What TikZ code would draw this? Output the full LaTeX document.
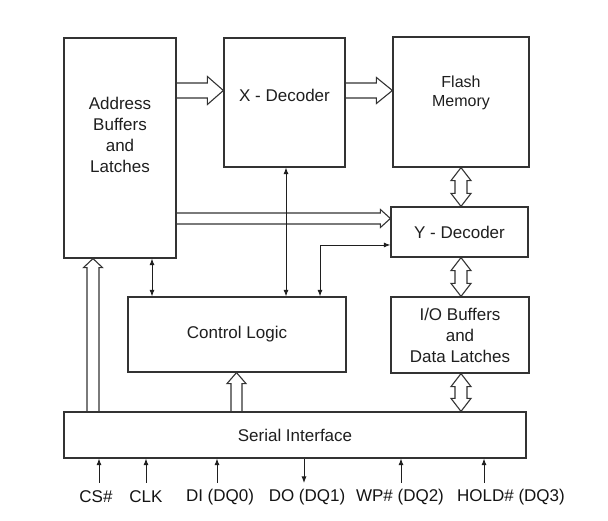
\documentclass[tikz,border=0pt]{standalone}
\usepackage{fontspec}
\setmainfont{Liberation Sans}
\usetikzlibrary{calc,arrows.meta}
% horizontal hollow arrow pointing right: #1 start, #2 tip, #3 band half, #4 head half, #5 head length
\newcommand{\hollowR}[5]{%
  \draw[hollow] let \p1=#1, \p2=#2 in
    (\x1,\y1+#3) -- (\x2-#5,\y1+#3) -- (\x2-#5,\y1+#4) -- (\x2,\y1)
    -- (\x2-#5,\y1-#4) -- (\x2-#5,\y1-#3) -- (\x1,\y1-#3);}
% vertical hollow arrow pointing up: #1 bottom, #2 tip
\newcommand{\hollowU}[5]{%
  \draw[hollow] let \p1=#1, \p2=#2 in
    (\x1-#3,\y1) -- (\x1-#3,\y2-#5) -- (\x1-#4,\y2-#5) -- (\x1,\y2)
    -- (\x1+#4,\y2-#5) -- (\x1+#3,\y2-#5) -- (\x1+#3,\y1);}
% vertical hollow double arrow: #1 top tip, #2 bottom tip
\newcommand{\hollowUD}[5]{%
  \draw[hollow] let \p1=#1, \p2=#2 in
    (\x1,\y1) -- (\x1+#4,\y1-#5) -- (\x1+#3,\y1-#5) -- (\x1+#3,\y2+#5)
    -- (\x1+#4,\y2+#5) -- (\x1,\y2) -- (\x1-#4,\y2+#5) -- (\x1-#3,\y2+#5)
    -- (\x1-#3,\y1-#5) -- (\x1-#4,\y1-#5) -- cycle;}
\tikzset{
  box/.style={draw=black!80, line width=1.2pt, inner sep=0pt, minimum width=#1},
  lbl/.style={font=\fontsize{17}{21}\selectfont, text=black!88, align=center, inner sep=0pt},
  sig/.style={font=\fontsize{17}{20}\selectfont, text=black!92, inner sep=0pt},
  hollow/.style={draw=black!80, line width=1.1pt, line join=miter},
  thinarr/.style={draw=black!88, line width=0.9pt},
  tip/.tip={Latex[length=6.5pt,width=5pt]}
}
\begin{document}
\begin{tikzpicture}[x=1pt,y=1pt]
\useasboundingbox (0,0) rectangle (608,521);
\fill[white] (0,0) rectangle (608,521);
% boxes
\node[box=112pt, minimum height=220pt] (addr) at (120,373) {};
\node[lbl] (addrt) at (120,386) {Address\\Buffers\\and\\Latches};
\node[box=121pt, minimum height=129pt] (xdec) at (284.5,418.5) {};
\node[lbl] (xdect) at (284.5,426) {X - Decoder};
\node[box=136pt, minimum height=130pt] (flash) at (461,419) {};
\node[lbl, font=\fontsize{16}{19}\selectfont] (flasht) at (461,428.5) {Flash\\Memory};
\node[box=137pt, minimum height=50pt, lbl] (ydec) at (459.5,289) {Y - Decoder};
\node[box=138pt, minimum height=76pt, lbl] (io) at (460,186) {I/O Buffers\\and\\Data Latches};
\node[box=218pt, minimum height=75pt, lbl] (ctrl) at (237,186.5) {Control Logic};
\node[box=462pt, minimum height=46pt, lbl] (serial) at (295,86) {Serial Interface};
% helper coordinates
\coordinate (ya) at (0,430.5);
\coordinate (yb) at (0,302.5);
\coordinate (xv) at (461,0);
\coordinate (xu1) at (93,0);
\coordinate (xu2) at (236.5,0);
\coordinate (xt1) at (152,0);
\coordinate (xt2) at (286,0);
\coordinate (xt3) at (320,0);
\coordinate (yt3) at (0,276);
% hollow arrows
\hollowR{(addr.east |- ya)}{(xdec.west |- ya)}{7.5pt}{14pt}{16pt}
\hollowR{(xdec.east |- ya)}{(flash.west |- ya)}{7.5pt}{13pt}{16pt}
\hollowR{(addr.east |- yb)}{(ydec.west |- yb)}{5.5pt}{9pt}{10pt}
\hollowUD{(flash.south -| xv)}{(ydec.north -| xv)}{6pt}{10pt}{13pt}
\hollowUD{(ydec.south -| xv)}{(io.north -| xv)}{6pt}{10pt}{13pt}
\hollowUD{(io.south -| xv)}{(serial.north -| xv)}{6pt}{10pt}{13pt}
\hollowU{(serial.north -| xu1)}{(addr.south -| xu1)}{6pt}{9.5pt}{9pt}
\hollowU{(serial.north -| xu2)}{(ctrl.south -| xu2)}{5.5pt}{9.5pt}{11pt}
% thin arrows
\draw[thinarr, tip-tip] (addr.south -| xt1) -- (ctrl.north -| xt1);
\draw[thinarr, tip-tip] (xdec.south -| xt2) -- (ctrl.north -| xt2);
\draw[thinarr, tip-tip] (ctrl.north -| xt3) -- (xt3 |- yt3) -- (ydec.west |- yt3);
% signals
\node[sig] (lcs) at (96,24) {CS\#};
\node[sig] (lclk) at (146,24) {CLK};
\node[sig] (ldi) at (220,24) {DI (DQ0)};
\node[sig] (ldo) at (307,24) {DO (DQ1)};
\node[sig] (lwp) at (400,24) {WP\# (DQ2)};
\node[sig] (lhold) at (511,24) {HOLD\# (DQ3)};
\coordinate (pcs) at (99,38);
\coordinate (pclk) at (146,38);
\coordinate (pdi) at (217,38);
\coordinate (pdo) at (304,38);
\coordinate (pwp) at (401,38);
\coordinate (phold) at (484,38);
\draw[thinarr, -tip] (pcs) -- (pcs |- serial.south);
\draw[thinarr, -tip] (pclk) -- (pclk |- serial.south);
\draw[thinarr, -tip] (pdi) -- (pdi |- serial.south);
\draw[thinarr, tip-] (pdo) -- (pdo |- serial.south);
\draw[thinarr, -tip] (pwp) -- (pwp |- serial.south);
\draw[thinarr, -tip] (phold) -- (phold |- serial.south);
\end{tikzpicture}
\end{document}
